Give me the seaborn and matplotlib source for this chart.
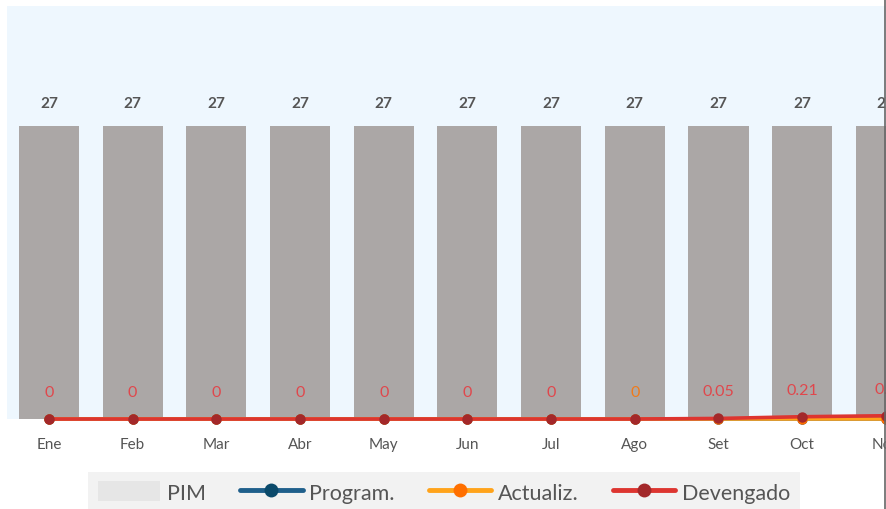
import numpy as np
import pandas as pd
import seaborn as sns
import matplotlib.pyplot as plt
from matplotlib.lines import Line2D
from matplotlib.patches import Patch

# Monthly budget execution (millions)
months = ["Ene", "Feb", "Mar", "Abr", "May", "Jun", "Jul", "Ago", "Set", "Oct", "Nov"]
pim = [27, 27, 27, 27, 27, 27, 27, 27, 27, 27, 27]
program = [0, 0, 0, 0, 0, 0, 0, 0, 0, 0, 0]
actualiz = [0, 0, 0, 0, 0, 0, 0, 0, 0, 0, 0]
devengado = [0, 0, 0, 0, 0, 0, 0, 0, 0.05, 0.21, 0.3]
# which series supplies the value label shown above each month
label_source = ["Devengado"] * 7 + ["Actualiz."] + ["Devengado"] * 3

sns.set_style("white")
plt.rcParams["font.family"] = ["Lato", "DejaVu Sans"]

C_BAR = "#ABA7A6"
C_BG = "#EEF7FE"
C_PROG, C_PROG_M = "#1F5F8B", "#0B4A6B"
C_ACT, C_ACT_M = "#FFA31A", "#FF6F00"
C_DEV, C_DEV_M = "#DD3530", "#A3282A"
C_TXT = "#555555"

df = pd.DataFrame({"mes": months, "PIM": pim, "Program.": program,
                   "Actualiz.": actualiz, "Devengado": devengado})
pos = np.arange(len(months))

fig = plt.figure(figsize=(8.87, 5.10), dpi=100)
ax = fig.add_axes([7 / 887, 90 / 510, 880 / 887, 413 / 510])
ax.set_facecolor(C_BG)

sns.barplot(data=df, x="mes", y="PIM", order=months, color=C_BAR,
            saturation=1, width=0.72, linewidth=0, edgecolor="none", ax=ax)

series = [("Program.", C_PROG, C_PROG_M),
          ("Actualiz.", C_ACT, C_ACT_M),
          ("Devengado", C_DEV, C_DEV_M)]
for name, c, mc in series:
    n_before = len(ax.lines)
    sns.lineplot(x=pos, y=df[name].values, ax=ax, color=c, lw=2.6,
                 marker="o", markersize=7.5, markerfacecolor=mc,
                 markeredgecolor=mc, markeredgewidth=0, legend=False)
    for ln in ax.lines[n_before:]:
        ln.set_clip_on(False)
        ln.set_zorder(5)

ax.set_xlim(-0.502, 10.015)
ax.set_ylim(0, 38.06)

# bar totals
for i, v in enumerate(pim):
    ax.annotate(f"{v:g}", (i, v), xytext=(0, 16.5), textcoords="offset points",
                ha="center", va="center", fontsize=11, fontweight="bold",
                color=C_TXT)

# executed amounts above the baseline
label_colors = {"Devengado": "#E0474C", "Actualiz.": "#F07A1A", "Program.": C_PROG}
for i, src in enumerate(label_source):
    v = df[src].iloc[i]
    ax.annotate(f"{v:g}", (i, v), xytext=(0, 19.5), textcoords="offset points",
                ha="center", va="center", fontsize=11.5,
                color=label_colors[src], zorder=6)

ax.set_xlabel("")
ax.set_ylabel("")
ax.set_yticks([])
ax.set_xticks(pos)
ax.set_xticklabels(months)
ax.tick_params(axis="x", length=0, pad=13, labelsize=11, labelcolor=C_TXT)
for sp in ax.spines.values():
    sp.set_visible(False)
ax.grid(False)

handles = [
    Patch(facecolor="#E6E6E6", edgecolor="none"),
    Line2D([], [], color=C_PROG, lw=3.5, marker="o", markersize=10,
           markerfacecolor=C_PROG_M, markeredgewidth=0),
    Line2D([], [], color=C_ACT, lw=3.5, marker="o", markersize=10,
           markerfacecolor=C_ACT_M, markeredgewidth=0),
    Line2D([], [], color=C_DEV, lw=3.5, marker="o", markersize=10,
           markerfacecolor=C_DEV_M, markeredgewidth=0),
]
leg = fig.legend(handles, ["PIM", "Program.", "Actualiz.", "Devengado"],
                 loc="center", bbox_to_anchor=(444 / 887, 1 - 493 / 510),
                 ncol=4, frameon=True, fancybox=False, facecolor="#F2F2F2",
                 edgecolor="none", framealpha=1, fontsize=15.5,
                 handlelength=2.9, handleheight=1.0, handletextpad=0.3,
                 columnspacing=1.6, borderpad=0.45, labelcolor=C_TXT)

fig.add_artist(Line2D([885.5 / 887] * 2, [0, 1], transform=fig.transFigure,
                      color="#666666", lw=1.2))

fig.savefig("out.png", dpi=100)
